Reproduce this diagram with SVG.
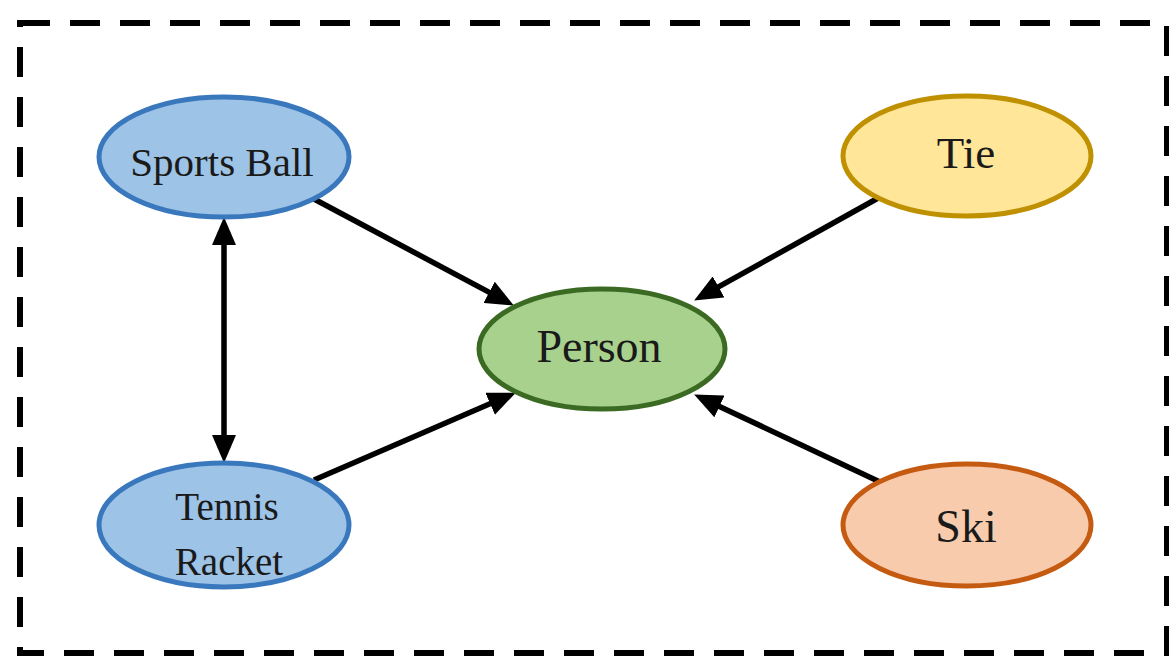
<svg xmlns="http://www.w3.org/2000/svg" width="1169" height="658" viewBox="0 0 1169 658">
<style>
.lbl{font-family:"Liberation Serif","Times New Roman",serif;fill:#1a1a1a;text-anchor:middle}
.edge{stroke:#000;stroke-width:5.5;fill:none}
</style>
<defs>
<marker id="ah" markerUnits="userSpaceOnUse" markerWidth="28" markerHeight="24" refX="13" refY="12" orient="auto-start-reverse" viewBox="0 0 28 24">
<path d="M0,0 L28,12 L0,24 z" fill="#000"/>
</marker>
</defs>
<rect x="0" y="0" width="1169" height="658" fill="#fff"/>
<rect id="frame" x="20" y="23" width="1147" height="630" fill="none" stroke="#000" stroke-width="6" stroke-dasharray="30 20"/>
<g id="connectors">
<line class="edge" x1="314" y1="199" x2="500.6" y2="298.4" marker-end="url(#ah)"/>
<line class="edge" x1="880" y1="197" x2="707.2" y2="293.2" marker-end="url(#ah)"/>
<line class="edge" x1="314" y1="480" x2="502.1" y2="398.6" marker-end="url(#ah)"/>
<line class="edge" x1="880" y1="482" x2="707.7" y2="400.9" marker-end="url(#ah)"/>
<line class="edge" x1="224" y1="232" x2="224" y2="448" marker-start="url(#ah)" marker-end="url(#ah)"/>
</g>
<g id="sports-ball">
<ellipse cx="224" cy="157" rx="125" ry="60" fill="#9dc3e6" stroke="#3a78bd" stroke-width="5"/>
<text class="lbl" x="222" y="176" font-size="41">Sports Ball</text>
</g>
<g id="tie">
<ellipse cx="967" cy="156" rx="124" ry="60" fill="#ffe699" stroke="#bf9000" stroke-width="5"/>
<text class="lbl" x="966" y="168" font-size="45">Tie</text>
</g>
<g id="person">
<ellipse cx="602" cy="349" rx="123" ry="60" fill="#a9d18e" stroke="#3b6b23" stroke-width="5"/>
<text class="lbl" x="599" y="362" font-size="46">Person</text>
</g>
<g id="tennis-racket">
<ellipse cx="224" cy="525" rx="125" ry="62" fill="#9dc3e6" stroke="#3a78bd" stroke-width="5"/>
<text class="lbl" x="227" y="520" font-size="39">Tennis</text>
<text class="lbl" x="229" y="575" font-size="39">Racket</text>
</g>
<g id="ski">
<ellipse cx="967" cy="525" rx="124" ry="61" fill="#f8cbad" stroke="#c55a11" stroke-width="5"/>
<text class="lbl" x="966" y="542" font-size="46">Ski</text>
</g>
</svg>
